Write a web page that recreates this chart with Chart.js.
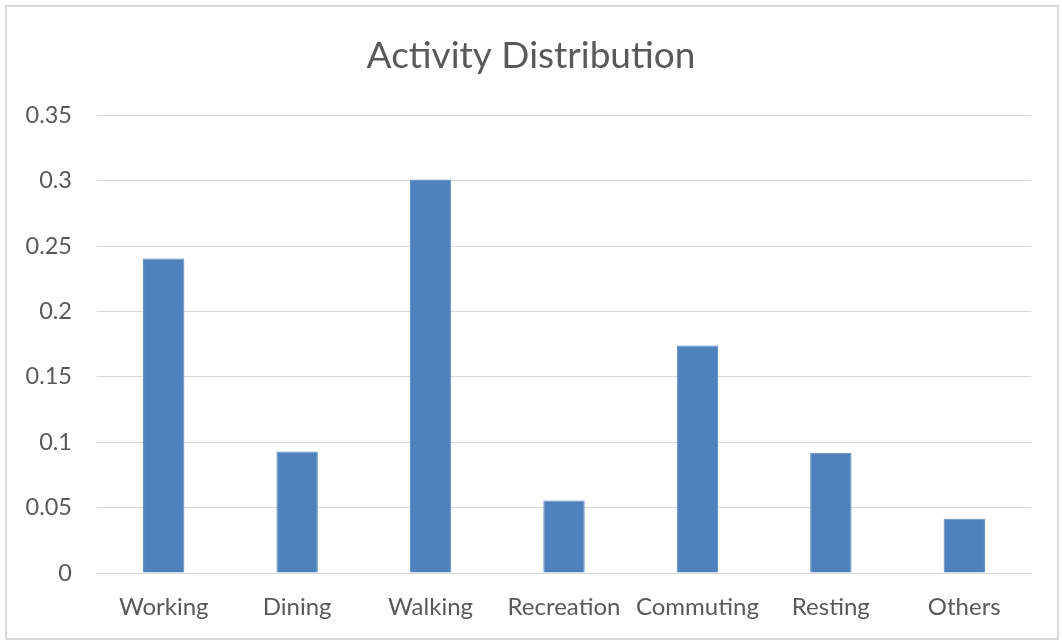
<!DOCTYPE html>
<html>
<head>
<meta charset="utf-8">
<title>Activity Distribution</title>
<script src="https://cdn.jsdelivr.net/npm/chart.js@4"></script>
<style>
  html, body { margin: 0; padding: 0; background: #fff; }
  #wrap { width: 1062px; height: 642px; position: relative; }
</style>
</head>
<body>
<div id="wrap"><canvas id="chart" width="1062" height="642"></canvas></div>
<script>
// categories and shares per activity
const categories = ['Working', 'Dining', 'Walking', 'Recreation', 'Commuting', 'Resting', 'Others'];
const shares = [0.2405, 0.093, 0.301, 0.0555, 0.174, 0.092, 0.0415];
const yTicks = [0, 0.05, 0.1, 0.15, 0.2, 0.25, 0.3, 0.35];

const textColor = '#595959';
const fontFamily = 'Lato, "Open Sans", sans-serif';

// light frame round the whole chart
const frame = {
    id: 'frame',
    beforeDraw(chart) {
        const ctx = chart.ctx;
        ctx.save();
        ctx.fillStyle = '#ffffff';
        ctx.fillRect(0, 0, chart.width, chart.height);
        ctx.strokeStyle = '#d9d9d9';
        ctx.lineWidth = 2;
        ctx.strokeRect(6, 6, chart.width - 10, chart.height - 9);
        ctx.restore();
    }
};

new Chart(document.getElementById('chart'), {
    type: 'bar',
    data: {
        labels: categories,
        datasets: [{
            data: shares,
            backgroundColor: '#4f81bd',
            borderColor: '#5a8ac4',
            borderWidth: 1,
            categoryPercentage: 1,
            barPercentage: 0.31
        }]
    },
    options: {
        responsive: false,
        animation: false,
        layout: { padding: 0 },
        plugins: {
            legend: { display: false },
            tooltip: { enabled: false },
            title: {
                display: true,
                text: 'Activity Distribution',
                color: textColor,
                font: { family: fontFamily, size: 37, weight: 'normal' },
                padding: { top: 34, bottom: 37 }
            }
        },
        scales: {
            x: {
                grid: { display: false, drawTicks: false },
                border: { display: false },
                ticks: {
                    color: textColor,
                    font: { family: fontFamily, size: 24 },
                    padding: 20,
                    maxRotation: 0,
                    autoSkip: false
                },
                afterFit(scale) { scale.height = 69; }
            },
            y: {
                min: 0,
                max: 0.35,
                grid: { color: '#d9d9d9', lineWidth: 1, drawTicks: false },
                border: { display: false },
                afterBuildTicks(scale) {
                    scale.ticks = yTicks.map(v => ({ value: v }));
                },
                ticks: {
                    color: textColor,
                    font: { family: fontFamily, size: 23.5 },
                    padding: 25,
                    callback: v => String(v)
                },
                afterFit(scale) { scale.width = 97; }
            },
            // empty right-hand axis, only reserves the right margin so the title stays centred
            yRight: {
                position: 'right',
                min: 0,
                max: 0.35,
                grid: { display: false, drawTicks: false },
                border: { display: false },
                ticks: { display: false },
                afterFit(scale) { scale.width = 31; }
            }
        }
    },
    plugins: [frame]
});
</script>
</body>
</html>
